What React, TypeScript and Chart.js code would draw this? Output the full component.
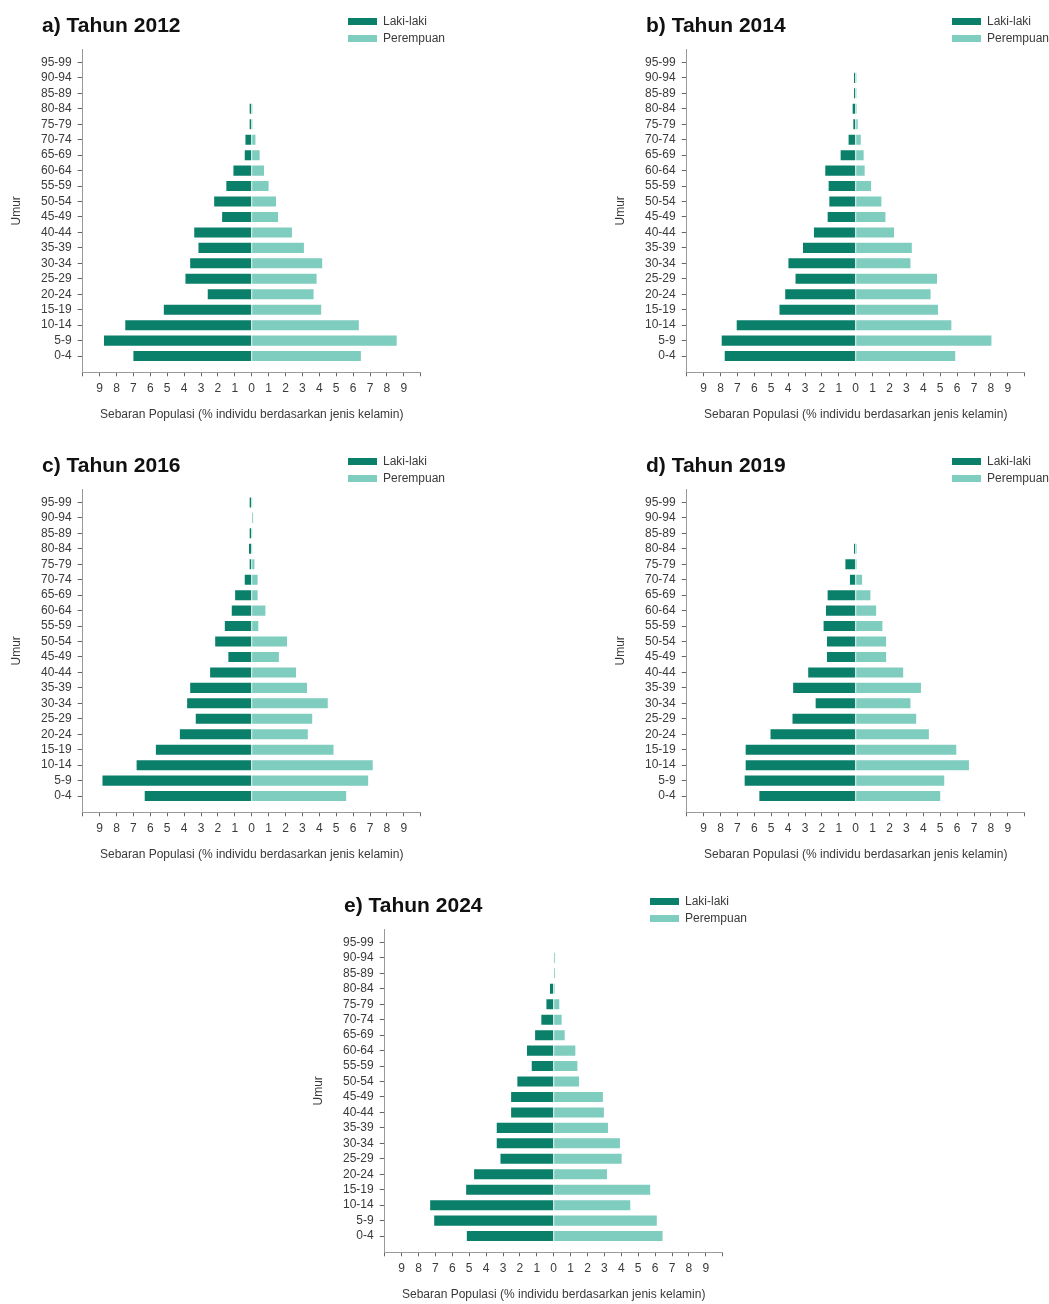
import React, { useEffect, useRef } from "react";
import { Chart, registerables } from "chart.js";

Chart.register(...registerables);

// ---------- data ----------
const AGE_GROUPS = [
  "0-4", "5-9", "10-14", "15-19", "20-24", "25-29", "30-34", "35-39", "40-44", "45-49",
  "50-54", "55-59", "60-64", "65-69", "70-74", "75-79", "80-84", "85-89", "90-94", "95-99",
];

const X_TICKS = [-10, -9, -8, -7, -6, -5, -4, -3, -2, -1, 0, 1, 2, 3, 4, 5, 6, 7, 8, 9, 10];

const SERIES_LABELS = ["Laki-laki", "Perempuan"];
const X_TITLE = "Sebaran Populasi (% individu berdasarkan jenis kelamin)";
const Y_TITLE = "Umur";

const TITLE_2012 = "a) Tahun 2012";
const MALE_2012 = [7.0, 8.74, 7.48, 5.2, 2.6, 3.92, 3.64, 3.15, 3.4, 1.75, 2.22, 1.5, 1.08, 0.41, 0.37, 0.12, 0.12, 0, 0, 0];
const FEMALE_2012 = [6.46, 8.58, 6.34, 4.11, 3.66, 3.84, 4.17, 3.09, 2.38, 1.56, 1.44, 1.0, 0.73, 0.47, 0.22, 0.05, 0.05, 0, 0, 0];

const TITLE_2014 = "b) Tahun 2014";
const MALE_2014 = [7.75, 7.93, 7.04, 4.51, 4.17, 3.56, 3.98, 3.12, 2.47, 1.66, 1.56, 1.6, 1.8, 0.89, 0.42, 0.14, 0.18, 0.1, 0.1, 0];
const FEMALE_2014 = [5.89, 8.03, 5.66, 4.87, 4.43, 4.81, 3.24, 3.32, 2.27, 1.76, 1.52, 0.91, 0.53, 0.47, 0.3, 0.12, 0.06, 0.05, 0.05, 0];

const TITLE_2016 = "c) Tahun 2016";
const MALE_2016 = [6.33, 8.83, 6.81, 5.67, 4.25, 3.31, 3.82, 3.64, 2.46, 1.38, 2.16, 1.59, 1.18, 0.98, 0.41, 0.12, 0.16, 0.12, 0, 0.12];
const FEMALE_2016 = [5.59, 6.89, 7.16, 4.84, 3.32, 3.58, 4.5, 3.27, 2.62, 1.61, 2.09, 0.39, 0.81, 0.35, 0.35, 0.16, 0.04, 0.04, 0.08, 0.04];

const TITLE_2019 = "d) Tahun 2019";
const MALE_2019 = [5.7, 6.57, 6.51, 6.51, 5.04, 3.74, 2.37, 3.7, 2.81, 1.7, 1.7, 1.9, 1.76, 1.66, 0.34, 0.61, 0.1, 0, 0, 0];
const FEMALE_2019 = [5.0, 5.24, 6.7, 5.95, 4.33, 3.58, 3.24, 3.86, 2.81, 1.8, 1.8, 1.58, 1.21, 0.87, 0.38, 0.06, 0.06, 0, 0, 0];

const TITLE_2024 = "e) Tahun 2024";
const MALE_2024 = [5.14, 7.07, 7.31, 5.18, 4.71, 3.15, 3.37, 3.37, 2.52, 2.52, 2.15, 1.3, 1.58, 1.1, 0.73, 0.43, 0.22, 0, 0, 0];
const FEMALE_2024 = [6.44, 6.1, 4.53, 5.71, 3.15, 4.02, 3.92, 3.21, 2.97, 2.91, 1.5, 1.4, 1.28, 0.65, 0.47, 0.33, 0.06, 0.08, 0.08, 0];

// ---------- style ----------
const MALE_COLOR = "#0a7f6a";
const FEMALE_COLOR = "#7ecdbf";
const TEXT_COLOR = "#3a3a3a";
const AXIS_COLOR = "#9a9a9a";
const TICK_COLOR = "#666666";
const FONT_FAMILY = "'Liberation Sans', Arial, Helvetica, sans-serif";

const PANEL_W = 445;
const PANEL_H = 440;

type PanelProps = {
  title: string;
  male: number[];
  female: number[];
  left: number;
  top: number;
};

function Pyramid({ title, male, female, left, top }: PanelProps) {
  const canvasRef = useRef<HTMLCanvasElement | null>(null);

  useEffect(() => {
    const canvas = canvasRef.current;
    if (!canvas) return;
    const tickFont = { family: FONT_FAMILY, size: 12 };
    const chart = new Chart(canvas, {
      type: "bar",
      data: {
        datasets: [
          {
            label: SERIES_LABELS[0],
            data: AGE_GROUPS.map((_, i) => ({ x: -male[i], y: i })),
            backgroundColor: MALE_COLOR,
            borderWidth: 0,
            grouped: false,
            categoryPercentage: 0.65,
            barPercentage: 1,
          } as any,
          {
            label: SERIES_LABELS[1],
            data: AGE_GROUPS.map((_, i) => ({ x: female[i], y: i })),
            backgroundColor: FEMALE_COLOR,
            borderWidth: 0,
            grouped: false,
            categoryPercentage: 0.65,
            barPercentage: 1,
          } as any,
        ],
      },
      options: {
        indexAxis: "y",
        responsive: false,
        maintainAspectRatio: false,
        animation: false,
        events: [],
        layout: { padding: { left: 9.5, top: 49.3, right: 24.3, bottom: 18.3 } },
        plugins: {
          legend: { display: false },
          tooltip: { enabled: false },
          title: { display: false },
        },
        scales: {
          x: {
            type: "linear",
            min: -10,
            max: 10,
            offset: false,
            afterFit: (s: any) => {
              s.height = 49.4;
            },
            afterBuildTicks: (s: any) => {
              s.ticks = X_TICKS.map((v) => ({ value: v }));
            },
            ticks: {
              autoSkip: false,
              maxRotation: 0,
              padding: 5,
              color: TEXT_COLOR,
              font: tickFont,
              callback: (v: any) => (Math.abs(Number(v)) === 10 ? "" : String(Math.abs(Number(v)))),
            },
            grid: {
              display: true,
              offset: false,
              drawOnChartArea: false,
              drawTicks: true,
              tickLength: 4,
              color: TICK_COLOR,
            },
            border: { display: true, color: AXIS_COLOR, width: 1 },
            title: {
              display: true,
              text: X_TITLE,
              color: TEXT_COLOR,
              font: tickFont,
              padding: 0,
            },
          },
          y: {
            type: "linear",
            min: -1.05,
            max: 19.85,
            offset: false,
            afterFit: (s: any) => {
              s.width = 73.2;
            },
            afterBuildTicks: (s: any) => {
              s.ticks = AGE_GROUPS.map((_, i) => ({ value: i }));
            },
            ticks: {
              autoSkip: false,
              padding: 6,
              color: TEXT_COLOR,
              font: tickFont,
              callback: (v: any) => AGE_GROUPS[Number(v)] ?? "",
            },
            grid: {
              display: true,
              offset: false,
              drawOnChartArea: false,
              drawTicks: true,
              tickLength: 5,
              color: TICK_COLOR,
            },
            border: { display: true, color: AXIS_COLOR, width: 1 },
            title: {
              display: true,
              text: Y_TITLE,
              color: TEXT_COLOR,
              font: tickFont,
              padding: 0,
            },
          },
        },
      } as any,
    });
    return () => chart.destroy();
  }, [male, female]);

  const legendItems = [
    { label: SERIES_LABELS[0], color: MALE_COLOR, cy: 21 },
    { label: SERIES_LABELS[1], color: FEMALE_COLOR, cy: 38 },
  ];

  return (
    <div style={{ position: "absolute", left, top, width: PANEL_W, height: PANEL_H }}>
      <canvas ref={canvasRef} width={PANEL_W} height={PANEL_H} style={{ position: "absolute", left: 0, top: 0, width: PANEL_W, height: PANEL_H }} />
      <div
        style={{
          position: "absolute",
          left: 42,
          top: 14,
          fontFamily: FONT_FAMILY,
          fontWeight: "bold",
          fontSize: 21,
          lineHeight: "21px",
          color: "#111111",
          whiteSpace: "nowrap",
        }}
      >
        {title}
      </div>
      {legendItems.map((it) => (
        <React.Fragment key={it.label}>
          <div
            style={{
              position: "absolute",
              left: 348,
              top: it.cy - 3.5,
              width: 29,
              height: 7,
              background: it.color,
            }}
          />
          <div
            style={{
              position: "absolute",
              left: 383,
              top: it.cy - 7,
              fontFamily: FONT_FAMILY,
              fontSize: 12,
              lineHeight: "14px",
              color: TEXT_COLOR,
              whiteSpace: "nowrap",
            }}
          >
            {it.label}
          </div>
        </React.Fragment>
      ))}
    </div>
  );
}

export default function App() {
  return (
    <div style={{ position: "absolute", left: 0, top: 0, width: 1049, height: 1304, background: "#ffffff" }}>
      <Pyramid title={TITLE_2012} male={MALE_2012} female={FEMALE_2012} left={0} top={0} />
      <Pyramid title={TITLE_2014} male={MALE_2014} female={FEMALE_2014} left={604} top={0} />
      <Pyramid title={TITLE_2016} male={MALE_2016} female={FEMALE_2016} left={0} top={440} />
      <Pyramid title={TITLE_2019} male={MALE_2019} female={FEMALE_2019} left={604} top={440} />
      <Pyramid title={TITLE_2024} male={MALE_2024} female={FEMALE_2024} left={302} top={880} />
    </div>
  );
}
